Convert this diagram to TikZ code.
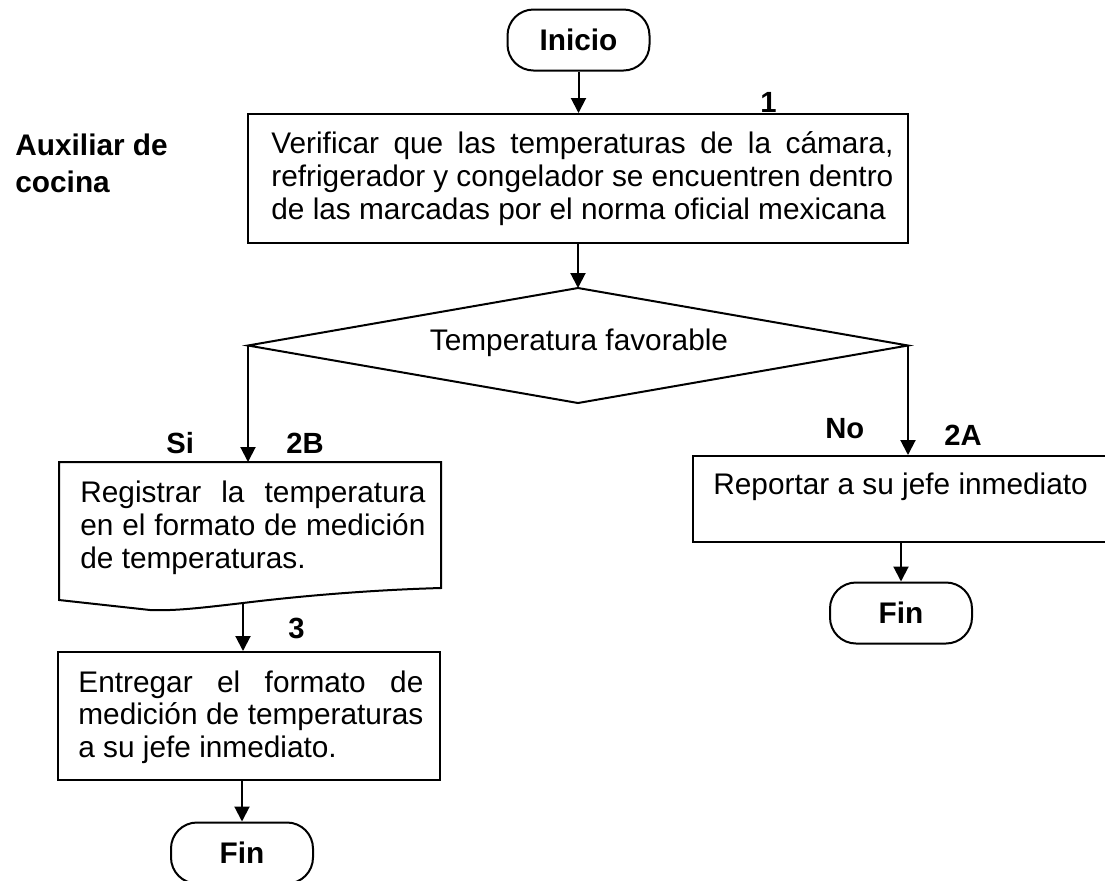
\documentclass[tikz,border=0pt]{standalone}
\usepackage{fontspec}
\setmainfont{Liberation Sans}
\usetikzlibrary{arrows.meta,shapes.geometric}
\newcommand\bodyfont{\fontsize{14.9pt}{16.5pt}\selectfont}
\newcommand\steplabelfont{\fontsize{14.6pt}{16pt}\selectfont\bfseries}
\newcommand\jline[2]{\makebox[#1][s]{#2}}
\begin{document}
\begin{tikzpicture}[x=0.5pt,y=-0.5pt,
  shapeline/.style={draw, line width=1pt},
  terminal/.style={shapeline, rounded corners=13pt, minimum width=71pt, minimum height=30.5pt, inner sep=0, font=\bodyfont\bfseries},
  procbox/.style={shapeline, inner sep=0},
  ghost/.style={inner sep=0, outer sep=0},
  flow/.style={line width=1pt, -{Triangle[length=7.5pt,width=7.5pt]}},
  body/.style={anchor=base west, inner sep=0, font=\bodyfont},
  steplabel/.style={anchor=base west, inner sep=0, font=\steplabelfont},
]
\useasboundingbox (0,0) rectangle (1105,880);

% shapes
\node[terminal] (inicio) at (578.5,40) {Inicio};
\node[procbox, minimum width=330pt, minimum height=64.5pt] (box1) at (578,178.5) {};
\node[procbox, shape=diamond, outer sep=0pt, minimum width=330pt, minimum height=57.5pt] (dec) at (578,345.5) {};
\node[ghost, minimum width=191pt, minimum height=69pt] (doc) at (250,531) {};
\draw[shapeline] (59,462) -- (441,462) -- (441,588)
  .. controls (370,590) and (300,596) .. (243,603)
  .. controls (200,608) and (175,611) .. (150,610)
  -- (59,600) -- cycle;
\coordinate (docout) at (243,603);
\node[procbox, minimum width=191pt, minimum height=64pt] (box3) at (249,716) {};
\node[terminal] (finb) at (242,853) {Fin};
\node[procbox, minimum width=208.5pt, minimum height=43pt] (box2a) at (901.5,499) {};
\node[terminal] (finr) at (901,613) {Fin};

% connectors
\draw[flow] (inicio.south) -- (inicio.south |- box1.north);
\draw[flow] (box1.south) -- (dec.north);
\draw[flow] (dec.west) -- (dec.west |- doc.north);
\draw[flow] (dec.east) -- (dec.east |- box2a.north);
\draw[flow] (docout) -- (docout |- box3.north);
\draw[flow] (box3.south -| finb.north) -- (finb.north);
\draw[flow] (box2a.south -| finr.north) -- (finr.north);

% texts
\node[body] (t1a) at (271,153) {\jline{311pt}{Verificar que las temperaturas de la cámara,}};
\node[body] (t1b) at (271,186) {\jline{311pt}{refrigerador y congelador se encuentren dentro}};
\node[body] (t1c) at (271,219) {de las marcadas por el norma oficial mexicana};
\node[body, anchor=base] (tdec) at (579,350) {Temperatura favorable};
\node[body] (td1) at (80,502) {\jline{172.5pt}{Registrar la temperatura}};
\node[body] (td2) at (80,535) {\jline{172.5pt}{en el formato de medición}};
\node[body] (td3) at (80,568) {de temperaturas.};
\node[body] (t3a) at (78,692) {\jline{172.5pt}{Entregar el formato de}};
\node[body] (t3b) at (78,724.5) {\jline{172.5pt}{medición de temperaturas}};
\node[body] (t3c) at (78,757) {a su jefe inmediato.};
\node[body] (t2a) at (713,494) {Reportar a su jefe inmediato};
\node[body, font=\bodyfont\bfseries] (role1) at (15,155) {Auxiliar de};
\node[body, font=\bodyfont\bfseries] (role2) at (15,192) {cocina};

% step labels
\node[steplabel] (l1) at (760,112) {1};
\node[steplabel] (lsi) at (166,453) {Si};
\node[steplabel] (l2b) at (286,453) {2B};
\node[steplabel] (lno) at (825,438) {No};
\node[steplabel] (l2a) at (944,445) {2A};
\node[steplabel] (l3) at (288,638) {3};
\end{tikzpicture}
\end{document}
